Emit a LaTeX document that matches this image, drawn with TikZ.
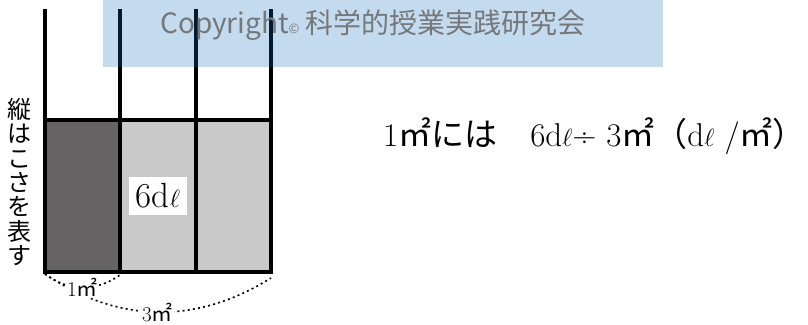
\documentclass[tikz,border=0pt]{standalone}
\usepackage{fontspec}
\newfontfamily\cjk{Noto Sans CJK JP}
\usepackage{tikz}
\usetikzlibrary{positioning}
\definecolor{darkcell}{HTML}{656364}
\definecolor{lightcell}{HTML}{C8C9C8}
\definecolor{wmblue}{RGB}{19,107,187}
\definecolor{wmgray}{HTML}{75787B}

\begin{document}
\begin{tikzpicture}[x=1pt, y=-1pt,
    cellline/.style={line width=4pt},
    dotarc/.style={line width=1.6pt, dash pattern=on 2pt off 3.2pt},
    arclabel/.style={fill=white, inner sep=1pt, font=\fontsize{21}{21}\selectfont}]
    \useasboundingbox (0,0) rectangle (808,324);

    % Cells - the first one is the 1 m2 part
    \fill[darkcell] (45,120) rectangle (120,272);
    \fill[lightcell] (120,120) rectangle (271,272);

    % Grid lines
    \draw[cellline] (45,120) rectangle (271,272);
    \foreach \x in {45,120,196,271}
        \draw[cellline] (\x,9) -- (\x,272);

    % Corners for the arcs
    \coordinate (bl) at (45,274);
    \coordinate (bm) at (120,275);
    \coordinate (br) at (271,278);

    % Dotted arcs under the cells
    \draw[dotarc] (bl) to[bend right=33] node[arclabel] (three) {3{\cjk ㎡}} (br);
    \draw[dotarc] (bl) to[bend right=36] node[arclabel] (one) {1{\cjk ㎡}} (bm);

    % Amount in the cells
    \node[fill=white, inner sep=7pt, font=\fontsize{35}{35}\selectfont] (amount) at (158,196) {6d$\ell$};

    % Side text, set vertically
    \node[inner sep=0, align=center, font=\cjk\fontsize{24}{24.3}\selectfont] (side) at (19,182)
        {縦\\は\\こ\\さ\\を\\表\\す};

    % Rate per 1 m2
    \node[anchor=base west, inner sep=0, font=\fontsize{33}{33}\selectfont] (rate) at (383,146)
        {1{\cjk ㎡には　}6d$\ell$÷ 3{\cjk ㎡（}d$\ell$ /{\cjk ㎡）}};

    % Watermark band
    \fill[wmblue, fill opacity=0.25] (103,0) rectangle (663,67);
    \node[text=wmgray, font=\cjk\fontsize{28}{28}\selectfont] (mark) at (373,25)
        {Copyright{\fontsize{13}{13}\selectfont ©} 科学的授業実践研究会};
\end{tikzpicture}
\end{document}
